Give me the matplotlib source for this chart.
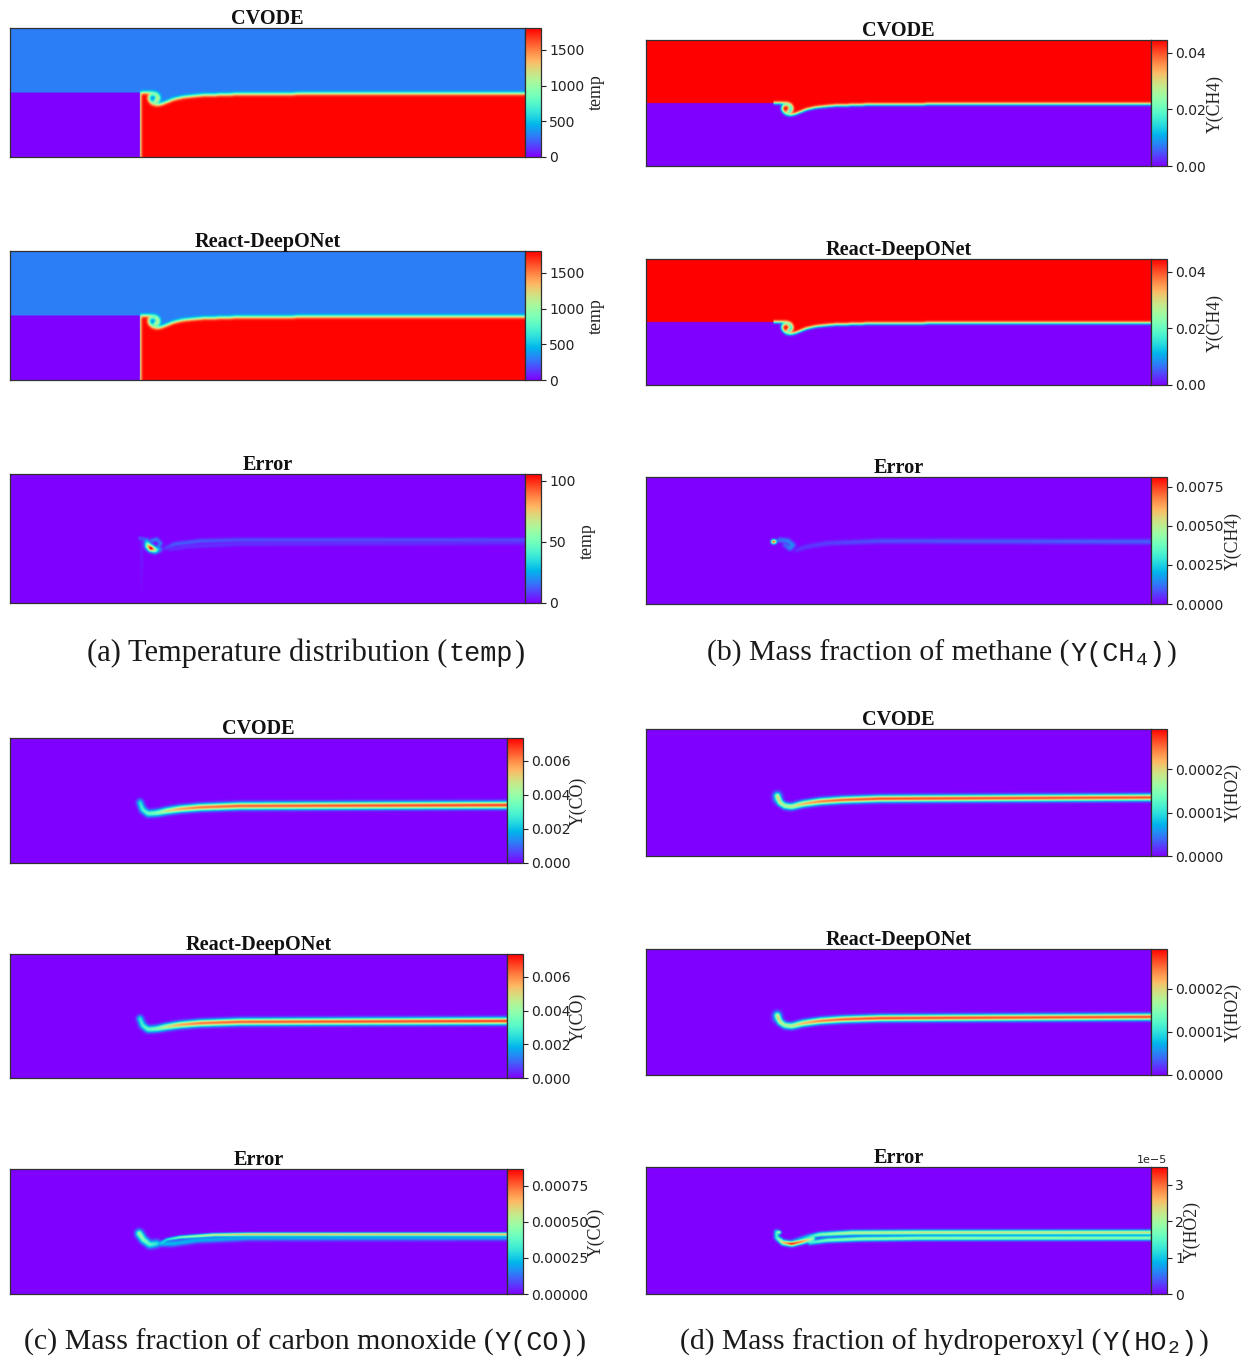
import numpy as np
import matplotlib
matplotlib.use("Agg")
import matplotlib.pyplot as plt
from matplotlib.path import Path

plt.rcParams["font.family"] = "DejaVu Sans"

W, H = 1244, 1358
TITLES = ["CVODE", "React-DeepONet", "Error"]

# flame front (domain is 515 x 129)
FRONT_X = [130, 143.3, 147.7, 149.7, 148, 144.7, 143.3, 146, 147.3, 145.7, 142.3, 139.3, 138.3,
           140, 143.3, 147.3, 151.7, 156.7, 163.3, 173, 190, 230, 340, 515, 515, 130]
FRONT_Y = [64.7, 64.7, 63, 59, 55.3, 54, 55.7, 57, 59.3, 62, 63, 61.7, 58.7,
           55.3, 52.7, 52, 53, 55, 57.7, 60, 61.7, 63, 63.5, 63.5, 0, 0]
STEP_X = 130
STEP_Y = 64.7
T_COLD = 300
T_HOT = 1800
CH4_FUEL = 0.0446

# CO band
CO_X = [134.7, 137.5, 143, 152, 162.4, 176, 196.8, 238, 515]
CO_Y = [61.9, 54.7, 50.6, 51.2, 53.3, 55.3, 57, 58.4, 59.3]
CO_V = [0.0028, 0.0032, 0.0036, 0.0040, 0.0052, 0.0062, 0.0068, 0.0071, 0.0074]

# HO2 band
HO2_X = [133.9, 136.7, 141.8, 148.6, 160.1, 177.5, 200.9, 238.7, 515]
HO2_Y = [61, 54.2, 50.8, 50.1, 53, 55.4, 57, 58.2, 59.5]
HO2_V = [2.3e-4, 2.1e-4, 1.9e-4, 2.0e-4, 2.4e-4, 2.7e-4, 2.85e-4, 2.95e-4, 2.95e-4]
HO2_TIP_X = [133.9, 134]
HO2_TIP_Y = [61, 58]
HO2_TIP_V = [1.3e-4, 1.1e-4]

# temp error
ERR_T_CRESCENT_X = [136.7, 138.3, 141, 145, 149.3]
ERR_T_CRESCENT_Y = [61.3, 57, 54.7, 53, 53.7]
ERR_T_CRESCENT_V = [30, 85, 120, 65, 22]
ERR_T_RING_X = [141.7, 146.7, 150.7, 148.3]
ERR_T_RING_Y = [62.3, 63.7, 59.7, 56.3]
ERR_T_RING_V = [20, 20, 20, 20]
ERR_T_STUB_X = [130, 135]
ERR_T_STUB_Y = [64.7, 63.7]
ERR_T_STUB_V = [14, 14]
ERR_T_WALL_X = [131.7, 131.7]
ERR_T_WALL_Y = [63, 10]
ERR_T_WALL_V = [5, 1]
ERR_T_UP_X = [155, 165, 190, 230, 515]
ERR_T_UP_Y = [54.7, 59, 62, 63, 63]
ERR_T_UP_V = [8, 14, 14, 12, 11]
ERR_T_LOW_X = [160, 176.7, 230, 515]
ERR_T_LOW_Y = [53.7, 56.3, 59, 60]
ERR_T_LOW_V = [6, 7, 7, 6]

# CH4 error
ERR_CH4_TIP_X = [129.8, 131]
ERR_CH4_TIP_Y = [63.3, 63.3]
ERR_CH4_TIP_V = [0.0095, 0.0085]
ERR_CH4_STUB_X = [129.8, 136.7]
ERR_CH4_STUB_Y = [63.3, 65]
ERR_CH4_STUB_V = [0.0025, 0.0010]
ERR_CH4_SWIRL_X = [136.7, 144.8, 149.9, 146.9, 141.8]
ERR_CH4_SWIRL_Y = [65, 64, 59.9, 56.6, 59.9]
ERR_CH4_SWIRL_V = [0.0014, 0.0016, 0.0016, 0.0016, 0.0011]
ERR_CH4_TAIL_X = [153.7, 163.9, 184.3, 238.7, 515]
ERR_CH4_TAIL_Y = [54.9, 58.2, 61.7, 64, 63.3]
ERR_CH4_TAIL_V = [0.0005, 0.0006, 0.0007, 0.0009, 0.0011]

# CO error
ERR_CO_HOOK_X = [134, 138.2, 145, 152]
ERR_CO_HOOK_Y = [61.9, 55.7, 50.6, 51.6]
ERR_CO_HOOK_V = [5.0e-4, 4.5e-4, 3.8e-4, 3.2e-4]
ERR_CO_UP_X = [156, 162.4, 176.1, 210.7, 248.6, 515]
ERR_CO_UP_Y = [52, 55.7, 58.1, 60.5, 61.1, 61.1]
ERR_CO_UP_V = [3.0e-4, 3.8e-4, 5.5e-4, 7.5e-4, 8.4e-4, 8.4e-4]
ERR_CO_LOW_X = [152, 169.2, 193.4, 248.6, 515]
ERR_CO_LOW_Y = [51.6, 51.6, 55, 57.5, 57.8]
ERR_CO_LOW_V = [2.5e-4, 2.4e-4, 2.3e-4, 2.2e-4, 2.2e-4]

# HO2 error
ERR_HO2_HOOK_X = [133.3, 133.3, 139.7, 148.6, 160.1, 170.3]
ERR_HO2_HOOK_Y = [62.3, 56.9, 51.8, 50.5, 53.1, 55.9]
ERR_HO2_HOOK_V = [1.6e-5, 1.5e-5, 2.8e-5, 3.7e-5, 3.1e-5, 2.1e-5]
ERR_HO2_DOT_X = [135.7, 136.5]
ERR_HO2_DOT_Y = [62.3, 62]
ERR_HO2_DOT_V = [3.6e-5, 2.4e-5]
ERR_HO2_UP_X = [150, 165, 177.5, 211, 279.5, 515]
ERR_HO2_UP_Y = [53.5, 57.5, 60, 61.7, 62, 62]
ERR_HO2_UP_V = [0.5e-5, 1.2e-5, 2.0e-5, 2.4e-5, 2.5e-5, 2.55e-5]
ERR_HO2_LOW_X = [167, 184.6, 218.3, 279.5, 515]
ERR_HO2_LOW_Y = [51.8, 54.2, 55.6, 56.3, 56.5]
ERR_HO2_LOW_V = [1.5e-5, 1.9e-5, 2.1e-5, 2.1e-5, 2.1e-5]

# colorbar ranges and ticks
TEMP_MAX, TEMP_ERR_MAX = 1808, 105.7
TEMP_TICKS, TEMP_ERR_TICKS = [0, 500, 1000, 1500], [0, 50, 100]
CH4_MAX, CH4_ERR_MAX = 0.0446, 0.00814
CH4_TICKS, CH4_ERR_TICKS = [0, 0.02, 0.04], [0, 0.0025, 0.005, 0.0075]
CO_MAX, CO_ERR_MAX = 0.00735, 0.000868
CO_TICKS, CO_ERR_TICKS = [0, 0.002, 0.004, 0.006], [0, 0.00025, 0.0005, 0.00075]
HO2_MAX, HO2_ERR_MAX = 0.000292, 3.495e-5
HO2_TICKS, HO2_ERR_TICKS = [0, 0.0001, 0.0002], [0, 1e-5, 2e-5, 3e-5]

xg = (np.arange(1030) + 0.5) / 2
yg = (np.arange(258) + 0.5) / 2
XX, YY = np.meshgrid(xg, yg)


def blur(a, sigma):
    n = int(3 * sigma) + 1
    k = np.exp(-0.5 * (np.arange(-n, n + 1) / sigma) ** 2)
    k = k / k.sum()
    p = np.pad(a, n, mode="edge")
    p = np.apply_along_axis(lambda r: np.convolve(r, k, mode="same"), 0, p)
    p = np.apply_along_axis(lambda r: np.convolve(r, k, mode="same"), 1, p)
    return p[n:-n, n:-n]


def band(xs, ys, vs, sigma):
    out = np.zeros_like(XX)
    for i in range(len(xs) - 1):
        dx, dy = xs[i + 1] - xs[i], ys[i + 1] - ys[i]
        t = ((XX - xs[i]) * dx + (YY - ys[i]) * dy) / (dx * dx + dy * dy)
        t = np.clip(t, 0, 1)
        d2 = (XX - xs[i] - t * dx) ** 2 + (YY - ys[i] - t * dy) ** 2
        v = vs[i] + t * (vs[i + 1] - vs[i])
        out = np.maximum(out, v * np.exp(-0.5 * d2 / sigma ** 2))
    return out


pts = np.column_stack([XX.ravel(), YY.ravel()])
hot = Path(np.column_stack([FRONT_X, FRONT_Y])).contains_points(pts).reshape(XX.shape).astype(float)
box = (XX < STEP_X) & (YY < STEP_Y)
above = (XX < STEP_X) & (YY >= STEP_Y)

h = blur(hot, 3.4)
temp = T_COLD * (1 - h) + T_HOT * h
temp[box] = 0
temp[above] = T_COLD

low = blur(np.maximum(hot, box.astype(float)), 3.0)
ch4 = CH4_FUEL * (1 - low)
ch4[box] = 0
ch4[above] = CH4_FUEL

co = blur(band(CO_X, CO_Y, CO_V, 2.2), 2)
ho2 = blur(np.maximum(band(HO2_X, HO2_Y, HO2_V, 2.0), band(HO2_TIP_X, HO2_TIP_Y, HO2_TIP_V, 2.8)), 2)

err_temp = band(ERR_T_CRESCENT_X, ERR_T_CRESCENT_Y, ERR_T_CRESCENT_V, 2.1)
err_temp = np.maximum(err_temp, band(ERR_T_RING_X, ERR_T_RING_Y, ERR_T_RING_V, 1.3))
err_temp = np.maximum(err_temp, band(ERR_T_STUB_X, ERR_T_STUB_Y, ERR_T_STUB_V, 1.2))
err_temp = np.maximum(err_temp, band(ERR_T_WALL_X, ERR_T_WALL_Y, ERR_T_WALL_V, 1.2))
err_temp = np.maximum(err_temp, band(ERR_T_UP_X, ERR_T_UP_Y, ERR_T_UP_V, 1.5))
err_temp = blur(np.maximum(err_temp, band(ERR_T_LOW_X, ERR_T_LOW_Y, ERR_T_LOW_V, 1.5)), 1.5)

err_ch4 = band(ERR_CH4_TIP_X, ERR_CH4_TIP_Y, ERR_CH4_TIP_V, 1.3)
err_ch4 = np.maximum(err_ch4, band(ERR_CH4_STUB_X, ERR_CH4_STUB_Y, ERR_CH4_STUB_V, 1.2))
err_ch4 = np.maximum(err_ch4, band(ERR_CH4_SWIRL_X, ERR_CH4_SWIRL_Y, ERR_CH4_SWIRL_V, 1.8))
err_ch4 = blur(np.maximum(err_ch4, band(ERR_CH4_TAIL_X, ERR_CH4_TAIL_Y, ERR_CH4_TAIL_V, 1.8)), 1.5)

err_co = band(ERR_CO_HOOK_X, ERR_CO_HOOK_Y, ERR_CO_HOOK_V, 2.6)
err_co = np.maximum(err_co, band(ERR_CO_LOW_X, ERR_CO_LOW_Y, ERR_CO_LOW_V, 2.0))
err_co = blur(np.maximum(err_co, band(ERR_CO_UP_X, ERR_CO_UP_Y, ERR_CO_UP_V, 0.9)), 1.5)

err_ho2 = band(ERR_HO2_HOOK_X, ERR_HO2_HOOK_Y, ERR_HO2_HOOK_V, 1.6)
err_ho2 = np.maximum(err_ho2, band(ERR_HO2_DOT_X, ERR_HO2_DOT_Y, ERR_HO2_DOT_V, 0.9))
err_ho2 = np.maximum(err_ho2, band(ERR_HO2_UP_X, ERR_HO2_UP_Y, ERR_HO2_UP_V, 1.5))
err_ho2 = blur(np.maximum(err_ho2, band(ERR_HO2_LOW_X, ERR_HO2_LOW_Y, ERR_HO2_LOW_V, 1.5)), 1.5)

fig = plt.figure(figsize=(W / 100, H / 100), dpi=100)


def panel(x0, x1, cb1, y0, y1, field, vmax, ticks, label, label_x, label_y, title):
    ax = fig.add_axes([x0 / W, 1 - y1 / H, (x1 - x0) / W, (y1 - y0) / H])
    im = ax.imshow(field, origin="lower", extent=[0, 515, 0, 129], aspect="auto",
                   cmap="rainbow", vmin=0, vmax=vmax, interpolation="bilinear")
    ax.set_xticks([])
    ax.set_yticks([])
    for s in ax.spines.values():
        s.set_linewidth(0.9)
        s.set_edgecolor("#303030")
    ax.text(0.5, 1 - 1 / (y1 - y0), title, transform=ax.transAxes, ha="center", va="bottom",
            family="Liberation Serif", weight="bold", fontsize=14.6, color="#111111")
    cax = fig.add_axes([x1 / W, 1 - y1 / H, (cb1 - x1) / W, (y1 - y0) / H])
    cb = fig.colorbar(im, cax=cax, ticks=ticks)
    cb.outline.set_linewidth(0.9)
    cb.outline.set_edgecolor("#303030")
    cax.tick_params(labelsize=10.1, length=3.5, width=0.8, pad=2.5, colors="#222222")
    cax.yaxis.get_offset_text().set_fontsize(8)
    fig.text((label_x + 1.5) / W, 1 - label_y / H, label, rotation=90, ha="center", va="center",
             family="Liberation Serif", fontsize=12.8, color="#222222")


# (a) temp
panel(10, 525, 541, 28, 157, temp, TEMP_MAX, TEMP_TICKS, "temp", 595, 92, TITLES[0])
panel(10, 525, 541, 251, 380, temp, TEMP_MAX, TEMP_TICKS, "temp", 595, 316, TITLES[1])
panel(10, 525, 541, 474, 603, err_temp, TEMP_ERR_MAX, TEMP_ERR_TICKS, "temp", 586, 541, TITLES[2])
# (b) CH4
panel(646, 1151, 1167, 40, 166, ch4, CH4_MAX, CH4_TICKS, "Y(CH4)", 1214, 104, TITLES[0])
panel(646, 1151, 1167, 259, 385, ch4, CH4_MAX, CH4_TICKS, "Y(CH4)", 1214, 323, TITLES[1])
panel(646, 1151, 1167, 477, 604, err_ch4, CH4_ERR_MAX, CH4_ERR_TICKS, "Y(CH4)", 1232, 541, TITLES[2])
# (c) CO
panel(10, 507, 523, 738, 863, co, CO_MAX, CO_TICKS, "Y(CO)", 577, 801, TITLES[0])
panel(10, 507, 523, 954, 1078, co, CO_MAX, CO_TICKS, "Y(CO)", 577, 1017, TITLES[1])
panel(10, 507, 523, 1169, 1294, err_co, CO_ERR_MAX, CO_ERR_TICKS, "Y(CO)", 595, 1232, TITLES[2])
# (d) HO2
panel(646, 1151, 1167, 729, 856, ho2, HO2_MAX, HO2_TICKS, "Y(HO2)", 1232, 793, TITLES[0])
panel(646, 1151, 1167, 949, 1075, ho2, HO2_MAX, HO2_TICKS, "Y(HO2)", 1232, 1013, TITLES[1])
panel(646, 1151, 1167, 1167, 1294, err_ho2, HO2_ERR_MAX, HO2_ERR_TICKS, "Y(HO2)", 1191, 1231, TITLES[2])

# captions are serif with the variable names in mono, placed piece by piece
SERIF, MONO = "Liberation Serif", "Liberation Mono"
captions = [
    (87, 661, [("(a) Temperature distribution (", SERIF, 22, 0), ("temp", MONO, 19.4, 0), (")", SERIF, 22, 0)]),
    (707, 661, [("(b) Mass fraction of methane (", SERIF, 21.4, 0), ("Y(CH", MONO, 19.4, 0), ("4", MONO, 14, 4),
                (")", MONO, 19.4, 0), (")", SERIF, 21.4, 0)]),
    (24, 1350, [("(c) Mass fraction of carbon monoxide (", SERIF, 21.5, 0), ("Y(CO)", MONO, 19.4, 0), (")", SERIF, 21.5, 0)]),
    (680, 1350, [("(d) Mass fraction of hydroperoxyl (", SERIF, 21.3, 0), ("Y(HO", MONO, 19.4, 0), ("2", MONO, 14, 3),
                 (")", MONO, 19.4, 0), (")", SERIF, 21.3, 0)]),
]
renderer = fig.canvas.get_renderer()
for cx, cy, pieces in captions:
    for txt, fam, size, dy in pieces:
        t = fig.text(cx / W, 1 - (cy + dy) / H, txt, ha="left", va="baseline", family=fam,
                     fontsize=size, color="#1a1a1a")
        cx = t.get_window_extent(renderer).x1 + 1

fig.savefig("out.png", dpi=100)
